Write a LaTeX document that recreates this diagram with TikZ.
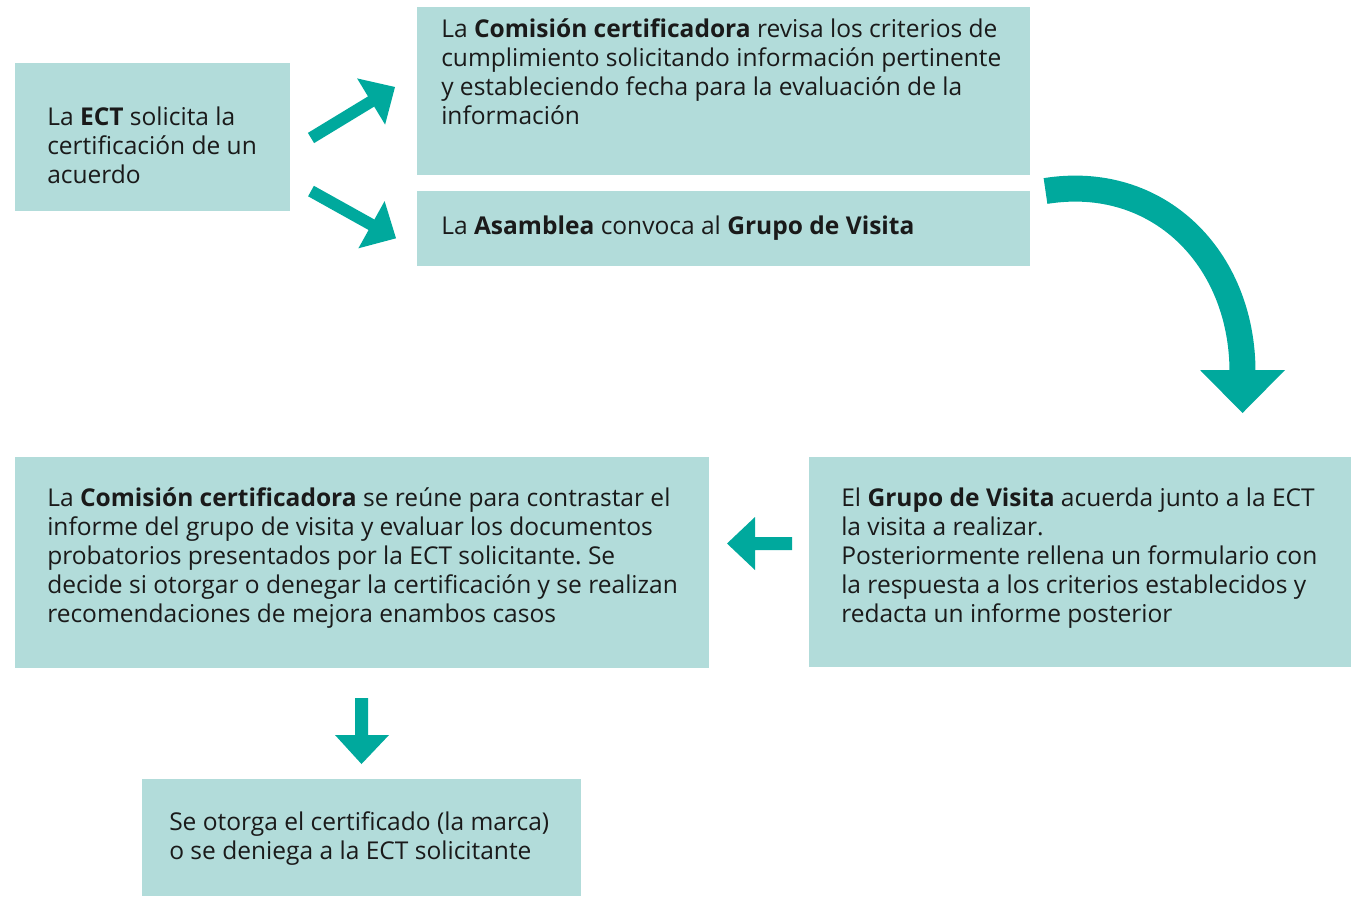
\documentclass[tikz,border=0pt]{standalone}
\usepackage{fontspec}
\setmainfont{Open Sans}
\frenchspacing
\usetikzlibrary{fit}
\definecolor{boxfill}{HTML}{B2DCDA}
\definecolor{arrowc}{HTML}{00A99D}
\definecolor{txtc}{HTML}{1A1A1A}
\tikzset{
  box/.style={draw=none, fill=boxfill, inner sep=0pt, outer sep=0pt},
  txt/.style={anchor=base west, align=left, inner sep=0pt, text=txtc,
    font=\fontsize{18.4}{21.75}\selectfont},
  blockarrow/.style={fill=arrowc, draw=none},
  curvedshaft/.style={draw=arrowc, line width=19.5pt, line cap=butt}
}
\begin{document}
\begin{tikzpicture}[x=0.75pt,y=-0.75pt]
\useasboundingbox (0,0) rectangle (1351,896);
% boxes
\node[box, fit={(15,63) (290,211)}] (b1) {};
\node[box, fit={(417,7) (1030,175)}] (b2) {};
\node[box, fit={(417,191) (1030,266)}] (b3) {};
\node[box, fit={(15,457) (709,668)}] (b4) {};
\node[box, fit={(809,457) (1351,667)}] (b5) {};
\node[box, fit={(142,779) (581,896)}] (b6) {};
% texts (anchored at the baseline of their last line)
\node[txt] (t1) at (47,183) {La \textbf{ECT} solicita la\\certificación de un\\acuerdo};
\node[txt] (t2) at (441,124) {La \textbf{Comisión certificadora} revisa los criterios de\\cumplimiento solicitando información pertinente\\y estableciendo fecha para la evaluación de la\\información};
\node[txt] (t3) at (441,234) {La \textbf{Asamblea} convoca al \textbf{Grupo de Visita}};
\node[txt] (t4) at (47,622) {La \textbf{Comisión certificadora} se reúne para contrastar el\\informe del grupo de visita y evaluar los documentos\\probatorios presentados por la ECT solicitante. Se\\decide si otorgar o denegar la certificación y se realizan\\recomendaciones de mejora enambos casos};
\node[txt] (t5) at (841,622) {El \textbf{Grupo de Visita} acuerda junto a la ECT\\la visita a realizar.\\Posteriormente rellena un formulario con\\la respuesta a los criterios establecidos y\\redacta un informe posterior};
\node[txt] (t6) at (169,859) {Se otorga el certificado (la marca)\\o se deniega a la ECT solicitante};
% arrows b1 -> b2, b1 -> b3
\fill[blockarrow] (307.9,132.9) -- (368.0,96.4) -- (357.1,78.4) -- (395,87) -- (385.1,124.6) -- (374.2,106.6) -- (314.1,143.1) -- cycle;
\fill[blockarrow] (313.9,185.8) -- (374.4,219.5) -- (384.6,201.1) -- (396,238.3) -- (358.4,248.3) -- (368.6,230.0) -- (308.1,196.3) -- cycle;
% curved arrow b2 -> b5
\draw[curvedshaft] (1045.5,191) .. controls (1158,173) and (1242.5,258) .. (1242.5,372);
\fill[blockarrow] (1200,370) -- (1285,370) -- (1242.5,413) -- cycle;
% arrow b5 -> b4
\fill[blockarrow] (792,537) -- (755,537) -- (755,517) -- (727,543.5) -- (755,570) -- (755,550) -- (792,550) -- cycle;
% arrow b4 -> b6
\fill[blockarrow] (355,698) -- (355,735) -- (335,735) -- (361.5,764) -- (389,735) -- (368,735) -- (368,698) -- cycle;
\end{tikzpicture}
\end{document}
